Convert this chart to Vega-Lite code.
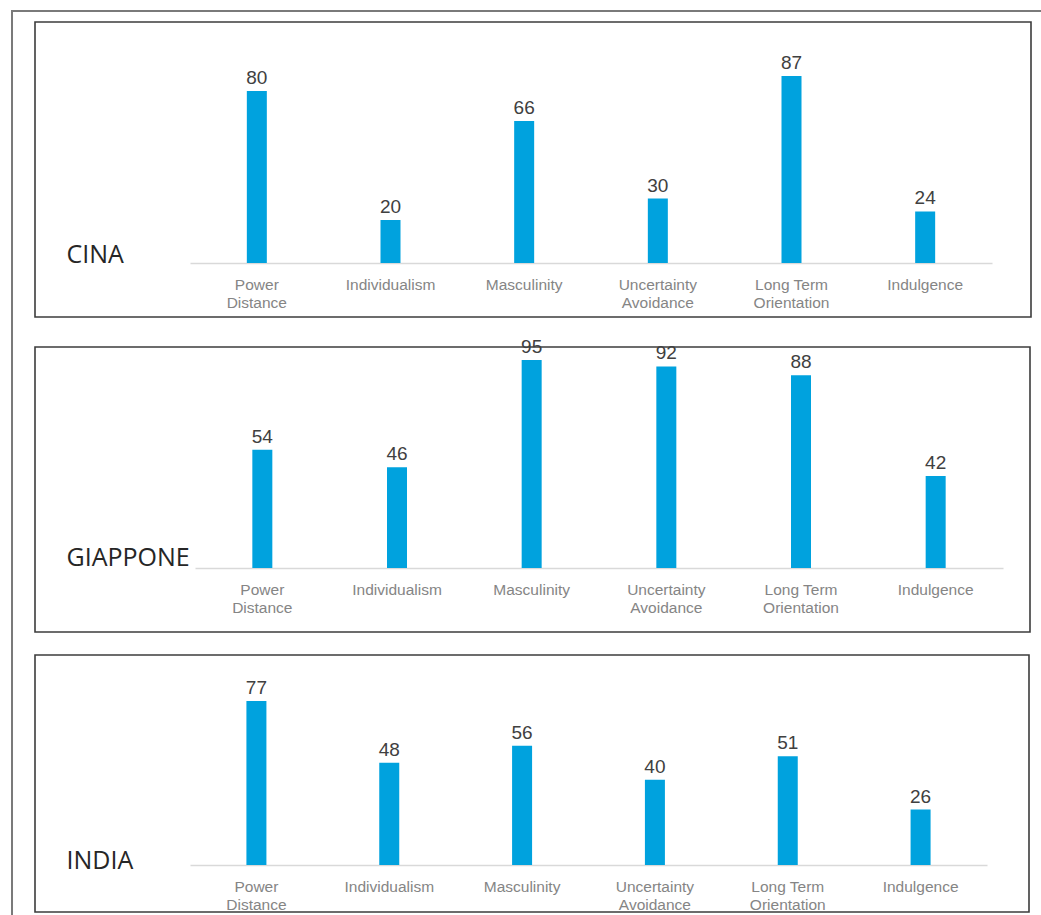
{
  "$schema": "https://vega.github.io/schema/vega-lite/v6.json",
  "padding": {"left": 11, "top": 10, "right": 0, "bottom": 0},
  "background": "white",
  "config": {
    "view": {"stroke": null},
    "text": {"font": "Liberation Sans"}
  },
  "datasets": {
    "hofstede": [
      {"country": "CINA", "dimension": "Power Distance", "score": 80},
      {"country": "CINA", "dimension": "Individualism", "score": 20},
      {"country": "CINA", "dimension": "Masculinity", "score": 66},
      {"country": "CINA", "dimension": "Uncertainty Avoidance", "score": 30},
      {"country": "CINA", "dimension": "Long Term Orientation", "score": 87},
      {"country": "CINA", "dimension": "Indulgence", "score": 24},
      {"country": "GIAPPONE", "dimension": "Power Distance", "score": 54},
      {"country": "GIAPPONE", "dimension": "Individualism", "score": 46},
      {"country": "GIAPPONE", "dimension": "Masculinity", "score": 95},
      {"country": "GIAPPONE", "dimension": "Uncertainty Avoidance", "score": 92},
      {"country": "GIAPPONE", "dimension": "Long Term Orientation", "score": 88},
      {"country": "GIAPPONE", "dimension": "Indulgence", "score": 42},
      {"country": "INDIA", "dimension": "Power Distance", "score": 77},
      {"country": "INDIA", "dimension": "Individualism", "score": 48},
      {"country": "INDIA", "dimension": "Masculinity", "score": 56},
      {"country": "INDIA", "dimension": "Uncertainty Avoidance", "score": 40},
      {"country": "INDIA", "dimension": "Long Term Orientation", "score": 51},
      {"country": "INDIA", "dimension": "Indulgence", "score": 26}
    ]
  },
  "spacing": 0,
  "bounds": "flush",
  "vconcat": [
    {
      "width": 1029,
      "height": 0.01,
      "data": {"values": []},
      "mark": "point",
      "view": {"stroke": "#7a7a7a", "strokeWidth": 2}
    },
    {
      "spacing": 22,
      "bounds": "flush",
      "hconcat": [
        {
          "width": 0.01,
          "height": 903,
          "data": {"values": []},
          "mark": "point",
          "view": {"stroke": "#7a7a7a", "strokeWidth": 2}
        },
        {
          "spacing": 9,
          "bounds": "flush",
          "vconcat": [
            {
              "width": 0.01,
              "height": 0.01,
              "data": {"values": []},
              "mark": "point"
            },
            {
              "spacing": 30,
              "bounds": "flush",
              "vconcat": [
                {
                  "width": 996,
                  "height": 295,
                  "view": {"stroke": "#3c3c3c", "strokeWidth": 1.6},
                  "data": {"name": "hofstede"},
                  "transform": [{"filter": "datum.country == 'CINA'"}],
                  "encoding": {
                    "x": {
                      "field": "dimension", "type": "nominal", "sort": null,
                      "scale": {"range": [155, 957]},
                      "axis": {
                        "title": null, "orient": "bottom", "offset": -54,
                        "domainColor": "#d9d9d9", "domainWidth": 1.5,
                        "ticks": false, "tickSize": 0, "labelPadding": 14,
                        "labelAngle": 0, "labelColor": "#858585", "labelFont": "Liberation Sans",
                        "labelFontSize": 15.5, "labelLineHeight": 18, "labelOverlap": false,
                        "labelExpr": "datum.label == 'Long Term Orientation' ? ['Long Term', 'Orientation'] : split(datum.label, ' ')"
                      }
                    },
                    "y": {
                      "field": "score", "type": "quantitative",
                      "scale": {"domain": [-25.1, 112.1], "nice": false, "zero": false},
                      "axis": {
                        "title": "CINA", "titleAngle": 0, "titleX": 31, "titleY": 240,
                        "titleAlign": "left", "titleBaseline": "alphabetic",
                        "titleFont": "Open Sans", "titleFontSize": 25, "titleFontWeight": "normal",
                        "titleColor": "#262626", "labels": false, "ticks": false,
                        "domain": false, "grid": false
                      }
                    }
                  },
                  "layer": [
                    {"mark": {"type": "bar", "width": 20, "color": "#00a2de"}, "encoding": {"y2": {"datum": 0}}},
                    {"mark": {"type": "text", "dy": -7, "baseline": "alphabetic", "fontSize": 19, "color": "#404040"}, "encoding": {"text": {"field": "score"}}}
                  ]
                },
                {
                  "spacing": 23,
                  "bounds": "flush",
                  "vconcat": [
                    {
                      "width": 995,
                      "height": 285,
                      "view": {"stroke": "#3c3c3c", "strokeWidth": 1.6},
                      "data": {"name": "hofstede"},
                      "transform": [{"filter": "datum.country == 'GIAPPONE'"}],
                      "encoding": {
                        "x": {
                          "field": "dimension", "type": "nominal", "sort": null,
                          "scale": {"range": [160, 968]},
                          "axis": {
                            "title": null, "orient": "bottom", "offset": -64,
                            "domainColor": "#d9d9d9", "domainWidth": 1.5,
                            "ticks": false, "tickSize": 0, "labelPadding": 14,
                            "labelAngle": 0, "labelColor": "#858585", "labelFont": "Liberation Sans",
                            "labelFontSize": 15.5, "labelLineHeight": 18, "labelOverlap": false,
                            "labelExpr": "datum.label == 'Long Term Orientation' ? ['Long Term', 'Orientation'] : split(datum.label, ' ')"
                          }
                        },
                        "y": {
                          "field": "score", "type": "quantitative",
                          "scale": {"domain": [-29.2, 100.9], "nice": false, "zero": false},
                          "axis": {
                            "title": "GIAPPONE", "titleAngle": 0, "titleX": 31, "titleY": 218,
                            "titleAlign": "left", "titleBaseline": "alphabetic",
                            "titleFont": "Open Sans", "titleFontSize": 25, "titleFontWeight": "normal",
                            "titleColor": "#262626", "labels": false, "ticks": false,
                            "domain": false, "grid": false
                          }
                        }
                      },
                      "layer": [
                        {"mark": {"type": "bar", "width": 20, "color": "#00a2de"}, "encoding": {"y2": {"datum": 0}}},
                        {"mark": {"type": "text", "dy": -7, "baseline": "alphabetic", "fontSize": 19, "color": "#404040"}, "encoding": {"text": {"field": "score"}}}
                      ]
                    },
                    {
                      "width": 994,
                      "height": 257,
                      "view": {"stroke": "#3c3c3c", "strokeWidth": 1.6},
                      "data": {"name": "hofstede"},
                      "transform": [{"filter": "datum.country == 'INDIA'"}],
                      "encoding": {
                        "x": {
                          "field": "dimension", "type": "nominal", "sort": null,
                          "scale": {"range": [155, 952]},
                          "axis": {
                            "title": null, "orient": "bottom", "offset": -47,
                            "domainColor": "#d9d9d9", "domainWidth": 1.5,
                            "ticks": false, "tickSize": 0, "labelPadding": 14,
                            "labelAngle": 0, "labelColor": "#858585", "labelFont": "Liberation Sans",
                            "labelFontSize": 15.5, "labelLineHeight": 18, "labelOverlap": false,
                            "labelExpr": "datum.label == 'Long Term Orientation' ? ['Long Term', 'Orientation'] : split(datum.label, ' ')"
                          }
                        },
                        "y": {
                          "field": "score", "type": "quantitative",
                          "scale": {"domain": [-22.1, 98.6], "nice": false, "zero": false},
                          "axis": {
                            "title": "INDIA", "titleAngle": 0, "titleX": 31, "titleY": 213,
                            "titleAlign": "left", "titleBaseline": "alphabetic",
                            "titleFont": "Open Sans", "titleFontSize": 25, "titleFontWeight": "normal",
                            "titleColor": "#262626", "labels": false, "ticks": false,
                            "domain": false, "grid": false
                          }
                        }
                      },
                      "layer": [
                        {"mark": {"type": "bar", "width": 20, "color": "#00a2de"}, "encoding": {"y2": {"datum": 0}}},
                        {"mark": {"type": "text", "dy": -7, "baseline": "alphabetic", "fontSize": 19, "color": "#404040"}, "encoding": {"text": {"field": "score"}}}
                      ]
                    }
                  ]
                }
              ]
            }
          ]
        }
      ]
    }
  ]
}
